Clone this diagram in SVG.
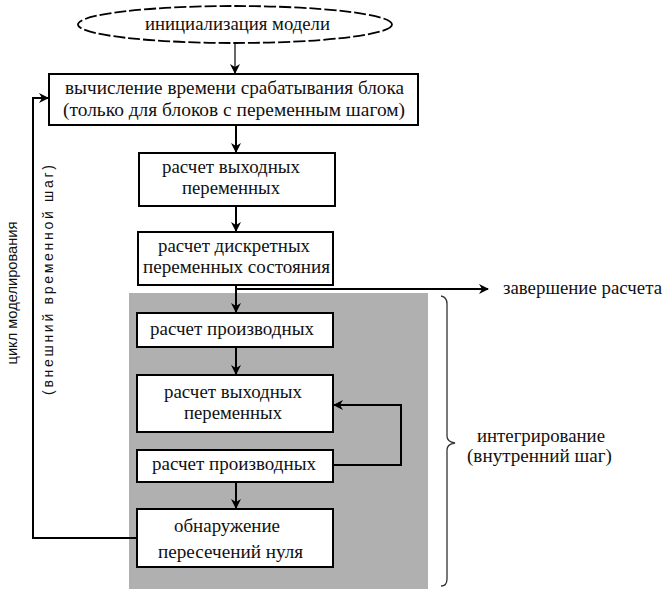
<svg xmlns="http://www.w3.org/2000/svg" width="663" height="589" viewBox="0 0 663 589">
<defs>
<style>
.box{fill:#fff;stroke:#000;stroke-width:2}
.t{font-size:18px;fill:#111}
.c{fill:none;stroke:#000;stroke-width:2}
.s{font-size:14px;fill:#111;text-anchor:middle}
</style>
<marker id="ah" markerWidth="10" markerHeight="10" refX="9" refY="5" orient="auto" markerUnits="userSpaceOnUse">
<path d="M0,0 L10,5 L0,10 L3,5 z" fill="#000"/>
</marker>
</defs>
<rect x="0" y="0" width="663" height="589" fill="#fff"/>
<rect id="integration-area" x="129" y="293" width="299" height="296" fill="#b0b0b0"/>

<g id="connectors">
<line x1="235" y1="43" x2="235" y2="73" stroke="#000" stroke-width="1.2" marker-end="url(#ah)"/>
<line class="c" x1="236" y1="125" x2="236" y2="152" marker-end="url(#ah)"/>
<line class="c" x1="236" y1="206" x2="236" y2="231" marker-end="url(#ah)"/>
<line class="c" x1="236" y1="285" x2="236" y2="312" marker-end="url(#ah)"/>
<polyline class="c" points="236,289 488,289" marker-end="url(#ah)"/>
<line class="c" x1="236" y1="347" x2="236" y2="374" marker-end="url(#ah)"/>
<polyline class="c" points="333,465 401,465 401,405 334,405" marker-end="url(#ah)"/>
<line class="c" x1="236" y1="482" x2="236" y2="508" marker-end="url(#ah)"/>
<polyline class="c" points="137,538 33,538 33,98 48,98" marker-end="url(#ah)"/>
</g>

<g font-family="'Liberation Serif', 'DejaVu Serif', 'Times New Roman', serif">
<g id="init">
<ellipse cx="235" cy="24.5" rx="157" ry="18.5" fill="#fff" stroke="#000" stroke-width="1.8" stroke-dasharray="12 3"/>
<text class="t" x="145" y="30" textLength="185" lengthAdjust="spacingAndGlyphs">инициализация модели</text>
</g>
<g id="block-time">
<rect class="box" x="49" y="74" width="369" height="51"/>
<text class="t" x="65" y="94" textLength="339" lengthAdjust="spacingAndGlyphs">вычисление времени срабатывания блока</text>
<text class="t" x="63" y="116" textLength="342" lengthAdjust="spacingAndGlyphs">(только для блоков с переменным шагом)</text>
</g>
<g id="outputs1">
<rect class="box" x="139" y="153" width="196" height="53"/>
<text class="t" x="162" y="173" textLength="138" lengthAdjust="spacingAndGlyphs">расчет выходных</text>
<text class="t" x="182" y="194" textLength="98" lengthAdjust="spacingAndGlyphs">переменных</text>
</g>
<g id="discrete">
<rect class="box" x="138" y="232" width="195" height="53"/>
<text class="t" x="158" y="252" textLength="152" lengthAdjust="spacingAndGlyphs">расчет дискретных</text>
<text class="t" x="143" y="273" textLength="187" lengthAdjust="spacingAndGlyphs">переменных состояния</text>
</g>
<g id="deriv1">
<rect class="box" x="137" y="313" width="196" height="34"/>
<text class="t" x="150" y="335" textLength="164" lengthAdjust="spacingAndGlyphs">расчет производных</text>
</g>
<g id="outputs2">
<rect class="box" x="137" y="375" width="196" height="57"/>
<text class="t" x="164" y="398" textLength="138" lengthAdjust="spacingAndGlyphs">расчет выходных</text>
<text class="t" x="184" y="419" textLength="98" lengthAdjust="spacingAndGlyphs">переменных</text>
</g>
<g id="deriv2">
<rect class="box" x="137" y="450" width="196" height="32"/>
<text class="t" x="152" y="470" textLength="164" lengthAdjust="spacingAndGlyphs">расчет производных</text>
</g>
<g id="zero">
<rect class="box" x="137" y="509" width="196" height="58"/>
<text class="t" x="174" y="532" textLength="106" lengthAdjust="spacingAndGlyphs">обнаружение</text>
<text class="t" x="158" y="558" textLength="145" lengthAdjust="spacingAndGlyphs">пересечений нуля</text>
</g>
<g id="end">
<text class="t" x="503" y="294" textLength="159" lengthAdjust="spacingAndGlyphs">завершение расчета</text>
</g>
<g id="brace">
<path d="M441,296 Q447,297 447,304 L447,436 Q447,442 455,443 Q447,444 447,450 L447,579 Q447,586 441,586" fill="none" stroke="#333" stroke-width="1.3"/>
<text class="t" x="477" y="442" textLength="128" lengthAdjust="spacingAndGlyphs">интегрирование</text>
<text class="t" x="467" y="462" textLength="145" lengthAdjust="spacingAndGlyphs">(внутренний шаг)</text>
</g>
</g>
<g id="loop-labels" font-family="'Liberation Sans', Arial, sans-serif">
<text class="s" transform="translate(17,293) rotate(-90)" textLength="143" lengthAdjust="spacingAndGlyphs">цикл моделирования</text>
<text class="s" transform="translate(53,280) rotate(-90)" textLength="230" lengthAdjust="spacing">(внешний временной шаг)</text>
</g>
</svg>
